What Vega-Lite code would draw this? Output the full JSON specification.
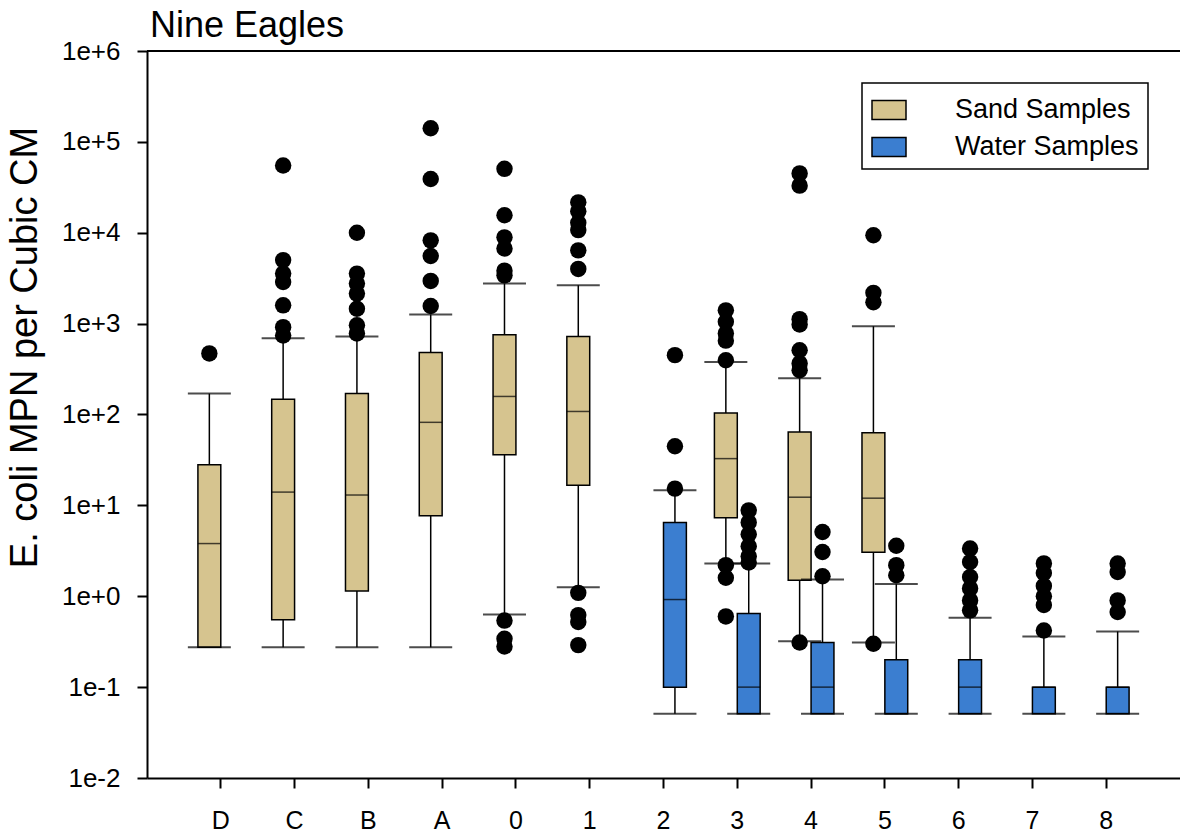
{
  "$schema": "https://vega.github.io/schema/vega-lite/v6.json",
  "width": 1033,
  "height": 727,
  "autosize": {"type": "none"},
  "padding": {"left": 147, "top": 51, "right": 0, "bottom": 54},
  "background": "white",
  "title": {"text": "Nine Eagles", "anchor": "start", "frame": "group", "font": "Liberation Sans", "fontSize": 36, "fontWeight": "normal", "color": "black", "baseline": "alphabetic", "offset": 0, "dx": 3, "dy": 35},
  "config": {
    "view": {"stroke": null},
    "axis": {"grid": false, "domainColor": "black", "domainWidth": 2, "tickColor": "black", "tickWidth": 2, "tickSize": 10, "labelFont": "Liberation Sans", "labelColor": "black", "titleFont": "Liberation Sans", "titleColor": "black", "titleFontWeight": "normal"},
    "legend": {"orient": "none", "legendX": 715, "legendY": 32, "strokeColor": "black", "strokeWidth": 1.5, "fillColor": "white", "padding": 9, "symbolType": "M-1,-0.56H1V0.56H-1Z", "symbolSize": 1156, "symbolStrokeColor": "black", "symbolStrokeWidth": 1.5, "symbolOpacity": 1, "labelFont": "Liberation Sans", "labelFontSize": 27, "labelColor": "black", "labelOffset": 48, "labelLimit": 400, "rowPadding": 6}
  },
  "datasets": {
    "boxes": [
      {"site": "D", "type": "Sand Samples", "lower": 0.275, "q1": 0.275, "median": 3.8, "q3": 28, "upper": 170},
      {"site": "C", "type": "Sand Samples", "lower": 0.275, "q1": 0.55, "median": 14, "q3": 147, "upper": 690},
      {"site": "B", "type": "Sand Samples", "lower": 0.275, "q1": 1.14, "median": 13, "q3": 170, "upper": 720},
      {"site": "A", "type": "Sand Samples", "lower": 0.275, "q1": 7.7, "median": 82, "q3": 480, "upper": 1260},
      {"site": "0", "type": "Sand Samples", "lower": 0.63, "q1": 36, "median": 158, "q3": 755, "upper": 2770},
      {"site": "1", "type": "Sand Samples", "lower": 1.26, "q1": 16.6, "median": 108, "q3": 720, "upper": 2650},
      {"site": "2", "type": "Water Samples", "lower": 0.051, "q1": 0.1, "median": 0.92, "q3": 6.5, "upper": 14.7},
      {"site": "3", "type": "Sand Samples", "lower": 2.3, "q1": 7.3, "median": 32.7, "q3": 104, "upper": 378},
      {"site": "3", "type": "Water Samples", "lower": 0.051, "q1": 0.051, "median": 0.1, "q3": 0.645, "upper": 2.29},
      {"site": "4", "type": "Sand Samples", "lower": 0.32, "q1": 1.5, "median": 12.3, "q3": 64, "upper": 250},
      {"site": "4", "type": "Water Samples", "lower": 0.051, "q1": 0.051, "median": 0.1, "q3": 0.31, "upper": 1.53},
      {"site": "5", "type": "Sand Samples", "lower": 0.31, "q1": 3.05, "median": 12, "q3": 63, "upper": 935},
      {"site": "5", "type": "Water Samples", "lower": 0.051, "q1": 0.051, "median": 0.051, "q3": 0.2, "upper": 1.36},
      {"site": "6", "type": "Water Samples", "lower": 0.051, "q1": 0.051, "median": 0.1, "q3": 0.2, "upper": 0.58},
      {"site": "7", "type": "Water Samples", "lower": 0.051, "q1": 0.051, "median": 0.1, "q3": 0.1, "upper": 0.36},
      {"site": "8", "type": "Water Samples", "lower": 0.051, "q1": 0.051, "median": 0.1, "q3": 0.1, "upper": 0.41}
    ],
    "outliers": [
      {"site": "D", "type": "Sand Samples", "value": 470},
      {"site": "C", "type": "Sand Samples", "value": 55000},
      {"site": "C", "type": "Sand Samples", "value": 5000},
      {"site": "C", "type": "Sand Samples", "value": 3550},
      {"site": "C", "type": "Sand Samples", "value": 2870},
      {"site": "C", "type": "Sand Samples", "value": 1590},
      {"site": "C", "type": "Sand Samples", "value": 915},
      {"site": "C", "type": "Sand Samples", "value": 740},
      {"site": "B", "type": "Sand Samples", "value": 10000},
      {"site": "B", "type": "Sand Samples", "value": 3550},
      {"site": "B", "type": "Sand Samples", "value": 2760},
      {"site": "B", "type": "Sand Samples", "value": 2140},
      {"site": "B", "type": "Sand Samples", "value": 1460},
      {"site": "B", "type": "Sand Samples", "value": 960},
      {"site": "B", "type": "Sand Samples", "value": 780},
      {"site": "A", "type": "Sand Samples", "value": 141000},
      {"site": "A", "type": "Sand Samples", "value": 39000},
      {"site": "A", "type": "Sand Samples", "value": 8250},
      {"site": "A", "type": "Sand Samples", "value": 5550},
      {"site": "A", "type": "Sand Samples", "value": 2950},
      {"site": "A", "type": "Sand Samples", "value": 1565},
      {"site": "0", "type": "Sand Samples", "value": 50500},
      {"site": "0", "type": "Sand Samples", "value": 15600},
      {"site": "0", "type": "Sand Samples", "value": 8900},
      {"site": "0", "type": "Sand Samples", "value": 6700},
      {"site": "0", "type": "Sand Samples", "value": 3830},
      {"site": "0", "type": "Sand Samples", "value": 3400},
      {"site": "0", "type": "Sand Samples", "value": 0.54},
      {"site": "0", "type": "Sand Samples", "value": 0.34},
      {"site": "0", "type": "Sand Samples", "value": 0.28},
      {"site": "1", "type": "Sand Samples", "value": 21600},
      {"site": "1", "type": "Sand Samples", "value": 17200},
      {"site": "1", "type": "Sand Samples", "value": 12900},
      {"site": "1", "type": "Sand Samples", "value": 10700},
      {"site": "1", "type": "Sand Samples", "value": 6400},
      {"site": "1", "type": "Sand Samples", "value": 4000},
      {"site": "1", "type": "Sand Samples", "value": 1.09},
      {"site": "1", "type": "Sand Samples", "value": 0.62},
      {"site": "1", "type": "Sand Samples", "value": 0.52},
      {"site": "1", "type": "Sand Samples", "value": 0.29},
      {"site": "2", "type": "Water Samples", "value": 450},
      {"site": "2", "type": "Water Samples", "value": 44.7},
      {"site": "2", "type": "Water Samples", "value": 15.3},
      {"site": "3", "type": "Sand Samples", "value": 1400},
      {"site": "3", "type": "Sand Samples", "value": 1050},
      {"site": "3", "type": "Sand Samples", "value": 780},
      {"site": "3", "type": "Sand Samples", "value": 650},
      {"site": "3", "type": "Sand Samples", "value": 395},
      {"site": "3", "type": "Sand Samples", "value": 2.2},
      {"site": "3", "type": "Sand Samples", "value": 1.6},
      {"site": "3", "type": "Sand Samples", "value": 0.6},
      {"site": "3", "type": "Water Samples", "value": 8.8},
      {"site": "3", "type": "Water Samples", "value": 6.5},
      {"site": "3", "type": "Water Samples", "value": 4.8},
      {"site": "3", "type": "Water Samples", "value": 3.55},
      {"site": "3", "type": "Water Samples", "value": 2.75},
      {"site": "3", "type": "Water Samples", "value": 2.35},
      {"site": "4", "type": "Sand Samples", "value": 45000},
      {"site": "4", "type": "Sand Samples", "value": 33000},
      {"site": "4", "type": "Sand Samples", "value": 1120},
      {"site": "4", "type": "Sand Samples", "value": 980},
      {"site": "4", "type": "Sand Samples", "value": 510},
      {"site": "4", "type": "Sand Samples", "value": 365},
      {"site": "4", "type": "Sand Samples", "value": 307},
      {"site": "4", "type": "Sand Samples", "value": 0.31},
      {"site": "4", "type": "Water Samples", "value": 5.1},
      {"site": "4", "type": "Water Samples", "value": 3.07},
      {"site": "4", "type": "Water Samples", "value": 1.66},
      {"site": "5", "type": "Sand Samples", "value": 9400},
      {"site": "5", "type": "Sand Samples", "value": 2180},
      {"site": "5", "type": "Sand Samples", "value": 1720},
      {"site": "5", "type": "Sand Samples", "value": 0.3},
      {"site": "5", "type": "Water Samples", "value": 3.6},
      {"site": "5", "type": "Water Samples", "value": 2.2},
      {"site": "5", "type": "Water Samples", "value": 1.7},
      {"site": "6", "type": "Water Samples", "value": 3.35},
      {"site": "6", "type": "Water Samples", "value": 2.38},
      {"site": "6", "type": "Water Samples", "value": 1.63},
      {"site": "6", "type": "Water Samples", "value": 1.22},
      {"site": "6", "type": "Water Samples", "value": 0.9},
      {"site": "6", "type": "Water Samples", "value": 0.7},
      {"site": "7", "type": "Water Samples", "value": 2.3},
      {"site": "7", "type": "Water Samples", "value": 1.8},
      {"site": "7", "type": "Water Samples", "value": 1.3},
      {"site": "7", "type": "Water Samples", "value": 1.0},
      {"site": "7", "type": "Water Samples", "value": 0.8},
      {"site": "7", "type": "Water Samples", "value": 0.42},
      {"site": "8", "type": "Water Samples", "value": 2.29},
      {"site": "8", "type": "Water Samples", "value": 1.85},
      {"site": "8", "type": "Water Samples", "value": 0.9},
      {"site": "8", "type": "Water Samples", "value": 0.67}
    ]
  },
  "layer": [
    {
      "data": {"name": "boxes"},
      "mark": {"type": "rule", "color": "black", "strokeWidth": 1.5},
      "encoding": {
        "x": {"field": "site", "type": "nominal", "sort": ["D","C","B","A","0","1","2","3","4","5","6","7","8"], "title": null,
              "scale": {"paddingInner": 0.38, "paddingOuter": 0.69},
              "axis": {"labelAngle": 0, "labelFontSize": 25, "labelBaseline": "alphabetic", "labelPadding": 40}},
        "xOffset": {"field": "type", "type": "nominal", "scale": {"domain": ["Sand Samples", "Water Samples"], "paddingInner": 0, "paddingOuter": 0}},
        "y": {"field": "lower", "type": "quantitative", "title": "E. coli MPN per Cubic CM",
              "scale": {"type": "log", "domain": [0.01, 1000000], "nice": false},
              "axis": {"values": [0.01, 0.1, 1, 10, 100, 1000, 10000, 100000, 1000000],
                       "labelExpr": "'1e' + (datum.value >= 1 ? '+' : '') + round(log(datum.value) / LN10)",
                       "labelFontSize": 26, "labelPadding": 17, "titleFontSize": 38,
                       "titleX": -122, "titleY": 296, "titleAngle": -90, "titleAlign": "center", "titleBaseline": "middle"}},
        "y2": {"field": "upper"}
      }
    },
    {
      "data": {"name": "boxes"},
      "mark": {"type": "bar", "stroke": "black", "strokeWidth": 1.5, "opacity": 1},
      "encoding": {
        "x": {"field": "site", "type": "nominal", "sort": ["D","C","B","A","0","1","2","3","4","5","6","7","8"], "title": null},
        "xOffset": {"field": "type", "type": "nominal"},
        "y": {"field": "q1", "type": "quantitative", "title": "E. coli MPN per Cubic CM"},
        "y2": {"field": "q3"},
        "fill": {"field": "type", "type": "nominal", "scale": {"domain": ["Sand Samples", "Water Samples"], "range": ["#D6C48F", "#3B7ED0"]}, "legend": {"title": null}}
      }
    },
    {
      "data": {"name": "boxes"},
      "mark": {"type": "tick", "color": "black", "thickness": 1.5, "size": 23, "orient": "horizontal"},
      "encoding": {
        "x": {"field": "site", "type": "nominal", "sort": ["D","C","B","A","0","1","2","3","4","5","6","7","8"], "title": null},
        "xOffset": {"field": "type", "type": "nominal"},
        "y": {"field": "median", "type": "quantitative", "title": "E. coli MPN per Cubic CM"}
      }
    },
    {
      "data": {"name": "boxes"},
      "mark": {"type": "tick", "color": "black", "thickness": 2, "size": 43, "orient": "horizontal"},
      "encoding": {
        "x": {"field": "site", "type": "nominal", "sort": ["D","C","B","A","0","1","2","3","4","5","6","7","8"], "title": null},
        "xOffset": {"field": "type", "type": "nominal"},
        "y": {"field": "lower", "type": "quantitative", "title": "E. coli MPN per Cubic CM"}
      }
    },
    {
      "data": {"name": "boxes"},
      "mark": {"type": "tick", "color": "black", "thickness": 2, "size": 43, "orient": "horizontal"},
      "encoding": {
        "x": {"field": "site", "type": "nominal", "sort": ["D","C","B","A","0","1","2","3","4","5","6","7","8"], "title": null},
        "xOffset": {"field": "type", "type": "nominal"},
        "y": {"field": "upper", "type": "quantitative", "title": "E. coli MPN per Cubic CM"}
      }
    },
    {
      "data": {"name": "outliers"},
      "mark": {"type": "point", "filled": true, "color": "black", "opacity": 1, "size": 270, "shape": "circle"},
      "encoding": {
        "x": {"field": "site", "type": "nominal", "sort": ["D","C","B","A","0","1","2","3","4","5","6","7","8"], "title": null},
        "xOffset": {"field": "type", "type": "nominal"},
        "y": {"field": "value", "type": "quantitative", "title": "E. coli MPN per Cubic CM"}
      }
    },
    {
      "data": {"values": [{"top": 1000000}]},
      "mark": {"type": "rule", "color": "black", "strokeWidth": 2},
      "encoding": {
        "y": {"field": "top", "type": "quantitative", "title": "E. coli MPN per Cubic CM"}
      }
    }
  ]
}
